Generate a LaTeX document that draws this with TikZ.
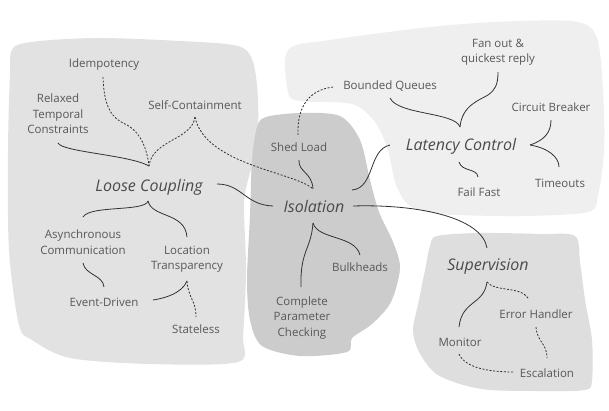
\documentclass[tikz,border=0pt]{standalone}
\usepackage{fontspec}
\setmainfont{Open Sans}
\definecolor{tg}{RGB}{88,88,88}
\definecolor{ln}{RGB}{50,50,50}
\definecolor{blobL}{RGB}{226,226,226}
\definecolor{blobI}{RGB}{204,204,204}
\definecolor{blobT}{RGB}{239,239,239}
\definecolor{blobS}{RGB}{222,222,222}
\begin{document}
\begin{tikzpicture}[x=1pt,y=-1pt,
  lbl/.style={font=\fontsize{11.5}{15.5}\selectfont, text=tg, align=center, inner sep=1pt},
  big/.style={font=\fontsize{16}{19}\selectfont\itshape, text=tg!85!black, inner sep=1pt},
  con/.style={draw=ln, line width=0.8pt},
  dcon/.style={con, dash pattern=on 2pt off 1.6pt}]
\useasboundingbox (0,0) rectangle (609,411);
\fill[white] (0,0) rectangle (609,411);

% blobs
\fill[blobT] plot[smooth cycle, tension=0.5] coordinates {(288,50) (330,40) (440,26) (520,21) (578,22) (597,38) (603,90) (604,150) (598,195) (588,212) (520,216) (440,214) (410,206) (396,185) (388,150) (375,122) (352,104) (300,101) (288,92)};
\fill[blobL] plot[smooth cycle, tension=0.5] coordinates {(13,48) (40,41) (100,38) (180,41) (238,46) (253,62) (258,100) (257,150) (249,176) (244,205) (246,270) (243,335) (238,362) (150,364) (70,358) (32,340) (19,325) (9,250) (8,150) (10,75)};
\fill[blobI] plot[smooth cycle, tension=0.5] coordinates {(266,117) (300,113) (340,116) (360,140) (370,180) (379,212) (393,242) (400,268) (391,302) (372,324) (352,338) (347,352) (300,356) (262,346) (250,320) (247,280) (250,215) (252,160) (257,127)};
\fill[blobS] plot[smooth cycle, tension=0.5] coordinates {(437,236) (480,233) (540,234) (575,236) (580,262) (585,300) (592,340) (592,380) (585,390) (540,391) (490,390) (460,384) (435,373) (419,352) (413,330) (419,300) (425,270) (430,246)};

% nodes
\node[lbl] (idem) at (104,65) {Idempotency};
\node[lbl] (relax) at (58,114) {Relaxed\\Temporal\\Constraints};
\node[lbl] (selfc) at (195,105) {Self-Containment};
\node[big] (lc) at (149,187) {Loose Coupling};
\node[lbl] (async) at (83,242) {Asynchronous\\Communication};
\node[lbl] (loct) at (187,259) {Location\\Transparency};
\node[lbl] (event) at (104,302) {Event-Driven};
\node[lbl] (stateless) at (196,329) {Stateless};
\node[lbl] (shed) at (299,147) {Shed Load};
\node[big] (iso) at (314,207) {Isolation};
\node[lbl] (bulk) at (360,267) {Bulkheads};
\node[lbl] (cpc) at (302,318) {Complete\\Parameter\\Checking};
\node[lbl] (bq) at (390,86) {Bounded Queues};
\node[lbl] (fan) at (498,52) {Fan out \&\\quickest reply};
\node[lbl] (cb) at (551,107) {Circuit Breaker};
\node[big] (latc) at (461,146) {Latency Control};
\node[lbl] (failf) at (479,192) {Fail Fast};
\node[lbl] (timeo) at (560,183) {Timeouts};
\node[big] (sup) at (488,267) {Supervision};
\node[lbl] (errh) at (536,314) {Error Handler};
\node[lbl] (mon) at (460,342) {Monitor};
\node[lbl] (esc) at (547,373) {Escalation};

% connector end points
\coordinate (relaxS) at (58,143);
\coordinate (idemS) at (103,77);
\coordinate (selfcS) at (195,117);
\coordinate (lcN) at (149,166);
\coordinate (lcS) at (148,201);
\coordinate (lcE) at (217,184);
\coordinate (asyncN) at (83,217);
\coordinate (asyncS) at (83,263);
\coordinate (loctN) at (187,237);
\coordinate (loctS) at (187,281);
\coordinate (eventN) at (104,287);
\coordinate (eventE) at (153,300);
\coordinate (statN) at (196,317);
\coordinate (shedN) at (298,135);
\coordinate (shedS) at (299,160);
\coordinate (bqW) at (333,87);
\coordinate (bqS) at (390,98);
\coordinate (isoN) at (313,189);
\coordinate (isoW) at (273,206);
\coordinate (isoNE) at (352,190);
\coordinate (isoE) at (353,206);
\coordinate (isoS) at (313,223);
\coordinate (bulkN) at (360,255);
\coordinate (cpcN) at (301,287);
\coordinate (latN) at (460,127);
\coordinate (latW) at (390,145);
\coordinate (latE) at (530,145);
\coordinate (latS) at (459,162);
\coordinate (fanS) at (498,72);
\coordinate (cbS) at (551,120);
\coordinate (timeoN) at (559,167);
\coordinate (failN) at (478,177);
\coordinate (supN) at (487,248);
\coordinate (supS) at (487,282);
\coordinate (monN) at (459,327);
\coordinate (monS) at (459,354);
\coordinate (errN) at (528,298);
\coordinate (errS) at (536,327);
\coordinate (escN) at (547,358);
\coordinate (escW) at (513,372);

% Loose Coupling cluster
\draw[con] (relaxS) .. controls (62,152) and (130,155) .. (lcN);
\draw[dcon] (idemS) .. controls (104,108) and (112,118) .. (125,124) .. controls (140,131) and (147,148) .. (lcN);
\draw[dcon] (selfcS) .. controls (192,140) and (152,140) .. (lcN);
\draw[dcon] (selfcS) .. controls (205,165) and (295,172) .. (isoN);
\draw[con] (lcE) .. controls (242,184) and (245,205) .. (isoW);
\draw[con] (lcS) .. controls (145,212) and (90,205) .. (asyncN);
\draw[con] (lcS) .. controls (152,218) and (185,212) .. (loctN);
\draw[con] (asyncS) .. controls (85,275) and (103,275) .. (eventN);
\draw[con] (loctS) .. controls (182,293) and (166,298) .. (eventE);
\draw[dcon] (loctS) .. controls (188,298) and (196,300) .. (statN);

% Isolation cluster
\draw[con] (shedS) .. controls (298,172) and (312,172) .. (isoN);
\draw[dcon] (bqW) .. controls (310,90) and (297,105) .. (shedN);
\draw[con] (isoNE) .. controls (375,188) and (368,150) .. (latW);
\draw[con] (isoE) .. controls (420,204) and (482,218) .. (supN);
\draw[con] (isoS) .. controls (318,240) and (355,235) .. (bulkN);
\draw[con] (isoS) .. controls (311,250) and (300,250) .. (cpcN);

% Latency cluster
\draw[con] (bqS) .. controls (398,115) and (455,112) .. (latN);
\draw[con] (latN) .. controls (462,105) and (480,100) .. (488,95) .. controls (495,90) and (498,85) .. (fanS);
\draw[con] (latE) .. controls (545,140) and (551,132) .. (cbS);
\draw[con] (latE) .. controls (548,148) and (559,157) .. (timeoN);
\draw[con] (latS) .. controls (462,172) and (477,168) .. (failN);

% Supervision cluster
\draw[con] (supS) .. controls (484,305) and (462,300) .. (monN);
\draw[dcon] (supS) .. controls (495,292) and (520,286) .. (errN);
\draw[dcon] (errS) .. controls (537,342) and (547,343) .. (escN);
\draw[dcon] (monS) .. controls (465,368) and (490,372) .. (escW);
\end{tikzpicture}
\end{document}
